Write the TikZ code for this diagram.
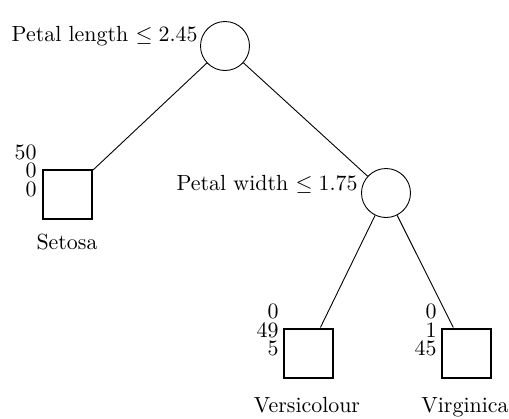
\documentclass[tikz,border=0pt]{standalone}
\begin{document}
\begin{tikzpicture}[x=0.5pt,y=-0.5pt,
  font=\fontsize{10.95}{9.25}\selectfont,
  split/.style={draw,circle,minimum size=24.5pt,inner sep=0pt,line width=0.45pt},
  leaf/.style={draw,rectangle,minimum size=24.5pt,inner sep=0pt,line width=1pt},
  counts/.style={align=right,inner sep=0pt,anchor=east},
  cond/.style={inner sep=0pt,anchor=east},
  cls/.style={inner sep=0pt,anchor=base},
  edge/.style={line width=0.45pt}]
\useasboundingbox (0,0) rectangle (509,418);
\node[split] (root) at (225,46) {};
\node[cond] (rootlab) at (198,36) {Petal length $\leq 2.45$};
\node[leaf] (setosa) at (67.5,194) {};
\node[counts] (setosac) at (37,170.7) {50\\0\\0};
\node[cls] (setosal) at (67,249) {Setosa};
\node[split] (pw) at (386,193) {};
\node[cond] (pwlab) at (358,184) {Petal width $\leq 1.75$};
\node[leaf] (vers) at (308,353) {};
\node[counts] (versc) at (279,330) {0\\49\\5};
\node[cls] (versl) at (307,412) {Versicolour};
\node[leaf] (virg) at (466,353) {};
\node[counts] (virgc) at (437,330) {0\\1\\45};
\node[cls] (virgl) at (465,412) {Virginica};
\draw[edge] (root) -- (setosa);
\draw[edge] (root) -- (pw);
\draw[edge] (pw) -- (vers);
\draw[edge] (pw) -- (virg);
\end{tikzpicture}
\end{document}
